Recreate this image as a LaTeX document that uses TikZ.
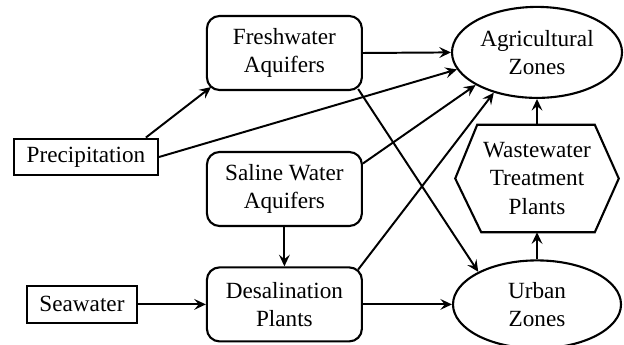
\documentclass[tikz,border=0pt]{standalone}
\usepackage{fontspec}
\setmainfont{Liberation Serif}
\usetikzlibrary{positioning, arrows.meta, shapes.geometric}

\begin{document}
\begin{tikzpicture}[
        every node/.style={font=\fontsize{16.5}{20}\selectfont, align=center},
        store/.style={
            rectangle, rounded corners=9pt, draw=black, line width=1.5pt,
            minimum width=3.875cm, minimum height=1.85cm, inner sep=0pt
        },
        source/.style={rectangle, draw=black, line width=1.5pt, minimum height=0.92cm, inner sep=0pt},
        zone/.style={ellipse, draw=black, line width=1.5pt, minimum width=4.2cm, minimum height=2.2cm, inner sep=0pt},
        hexbox/.style={minimum width=4.075cm, minimum height=2.675cm, inner sep=0pt},
        arrow/.style={line width=1.4pt, -{Stealth[length=2.9mm, width=2.7mm, inset=1.1mm]}}
    ]
    \useasboundingbox (0,0) rectangle (15.6,8.6);

    % Sources
    \node (precip) [source, minimum width=3.6cm] at (2.15, 4.675) {Precipitation};
    \node (sea) [source, minimum width=2.75cm] at (2.05, 0.99) {Seawater};

    % Aquifers and plants
    \node (fresh) [store] at (7.11, 7.275) {Freshwater\\Aquifers};
    \node (saline) [store] at (7.11, 3.875) {Saline Water\\Aquifers};
    \node (desal) [store] at (7.11, 0.99) {Desalination\\Plants};

    % Zones
    \node (agri) [zone, minimum width=4.25cm, minimum height=2.275cm] at (13.425, 7.29) {Agricultural\\Zones};
    \node (urban) [zone] at (13.425, 0.99) {Urban\\Zones};

    % Treatment plants (hexagon)
    \node (wwtp) [hexbox] at (13.425, 4.1375) {Wastewater\\Treatment\\Plants};
    \draw[line width=1.5pt, line join=miter] (wwtp.west) -- ([xshift=0.55cm]wwtp.north west)
        -- ([xshift=-0.6cm]wwtp.north east) -- (wwtp.east)
        -- ([xshift=-0.6cm]wwtp.south east) -- ([xshift=0.65cm]wwtp.south west) -- cycle;

    % Arrows
    \draw [arrow] (precip.18) -- ([shift={(0.13,0.1)}]fresh.south west);
    \draw [arrow] (precip.east) -- (agri.192);
    \draw [arrow] (fresh.east) -- (agri.west);
    \draw [arrow] ([shift={(-0.12,0.05)}]fresh.south east) -- (urban.151);
    \draw [arrow] (saline.18) -- (agri.208);
    \draw [arrow] (saline.south) -- (desal.north);
    \draw [arrow] (sea.east) -- (desal.west);
    \draw [arrow] ([shift={(-0.12,-0.08)}]desal.north east) -- (agri.223);
    \draw [arrow] (desal.east) -- (urban.west);
    \draw [arrow] (urban.north) -- (wwtp.south);
    \draw [arrow] (wwtp.north) -- (agri.south);

\end{tikzpicture}
\end{document}
